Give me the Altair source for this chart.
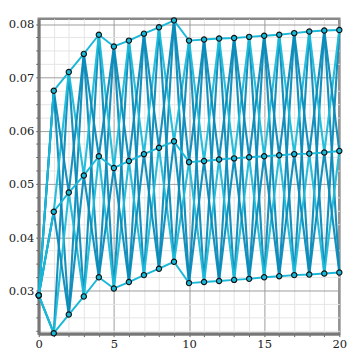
import altair as alt
import pandas as pd

xs = list(range(21))
top = [0.0291, 0.0675, 0.0710, 0.0744, 0.0780, 0.0758, 0.0769, 0.0782, 0.0794, 0.0807,
       0.0769, 0.0771, 0.0773, 0.0774, 0.0776, 0.0778, 0.0780, 0.0783, 0.0786, 0.0788, 0.0789]
mid = [0.0291, 0.0448, 0.0484, 0.0516, 0.0552, 0.0530, 0.0543, 0.0556, 0.0568, 0.0580,
       0.0541, 0.0543, 0.0546, 0.0548, 0.0550, 0.0552, 0.0554, 0.0556, 0.0557, 0.0559, 0.0562]
low = [0.0291, 0.0220, 0.0255, 0.0289, 0.0325, 0.0304, 0.0316, 0.0329, 0.0341, 0.0354,
       0.0314, 0.0316, 0.0318, 0.0320, 0.0322, 0.0325, 0.0327, 0.0329, 0.0330, 0.0332, 0.0334]

series = {"top": top, "mid": mid, "low": low}

rows = []
for name, vals in series.items():
    for x, v in zip(xs, vals):
        rows.append({"x": x, "y": v, "line": name, "kind": "main"})
main_df = pd.DataFrame(rows)

pairs = [("top", "low", "dark"), ("low", "top", "dark"),
         ("top", "mid", "light"), ("mid", "top", "dark"),
         ("mid", "low", "light"), ("low", "mid", "dark")]
zrows = []
for i, (a, b, shade) in enumerate(pairs):
    for x in xs:
        src = a if x % 2 == 0 else b
        zrows.append({"x": x, "y": series[src][x], "line": f"z{i}", "kind": shade})
zig_df = pd.DataFrame(zrows)

xscale = alt.Scale(domain=[0, 20], nice=False)
yscale = alt.Scale(domain=[0.0219, 0.0810], nice=False, zero=False)

FONT = "DejaVu Serif"

xaxis = alt.Axis(
    values=xs, title=None,
    labelExpr="datum.value % 5 == 0 ? datum.label : ''",
    labelOverlap=False,
    gridColor={"condition": {"test": "datum.value % 5 == 0", "value": "#9a9a9a"}, "value": "#e4e4e4"},
    gridWidth=1, domainColor="#777777", domainWidth=3, tickColor="#555555", tickSize=3,
    labelFont=FONT, labelFontSize=12, labelColor="#222222", labelPadding=2,
    labelFlush=False,
)
yvals = [round(0.0225 + 0.0025 * i, 4) for i in range(24)]
yvals = [v for v in yvals if 0.0219 <= v <= 0.0810]
yaxis = alt.Axis(
    values=yvals, title=None, format=".2f",
    labelExpr="round(datum.value*1000) % 10 == 0 ? datum.label : ''",
    labelOverlap=False,
    gridColor={"condition": {"test": "round(datum.value*1000) % 10 == 0", "value": "#9a9a9a"}, "value": "#e4e4e4"},
    gridWidth=1, domainColor="#777777", domainWidth=3, tickColor="#555555", tickSize=3,
    labelFont=FONT, labelFontSize=12, labelColor="#222222", labelPadding=2,
    labelFlush=False,
)

zig = alt.Chart(zig_df).mark_line(strokeWidth=2.2, opacity=0.95).encode(
    x=alt.X("x:Q", scale=xscale, axis=xaxis),
    y=alt.Y("y:Q", scale=yscale, axis=yaxis),
    detail="line:N",
    order="x:Q",
    color=alt.Color("kind:N", scale=alt.Scale(domain=["dark", "light"], range=["#0a8ab8", "#1cbad9"]), legend=None),
)

mains = alt.Chart(main_df).mark_line(strokeWidth=2, color="#1ab8d8").encode(
    x=alt.X("x:Q", scale=xscale, axis=xaxis),
    y=alt.Y("y:Q", scale=yscale, axis=yaxis),
    detail="line:N",
    order="x:Q",
)

pts = alt.Chart(main_df).mark_point(shape="circle", size=30, filled=True, fill="#1ab8d8",
                                    stroke="#111111", strokeWidth=1.2, opacity=1).encode(
    x=alt.X("x:Q", scale=xscale, axis=xaxis),
    y=alt.Y("y:Q", scale=yscale, axis=yaxis),
)

chart = alt.layer(zig, mains, pts).properties(
    width=313, height=328, background="white",
    padding={"left": 0, "top": 0, "right": 0, "bottom": 0}
).configure_view(stroke="#888888", strokeWidth=2.5).configure_axis(
    labelOverlap=False, labelFont=FONT, labelFontSize=12
)

chart.save("out.html", embed_options={"renderer": "svg", "actions": False})
